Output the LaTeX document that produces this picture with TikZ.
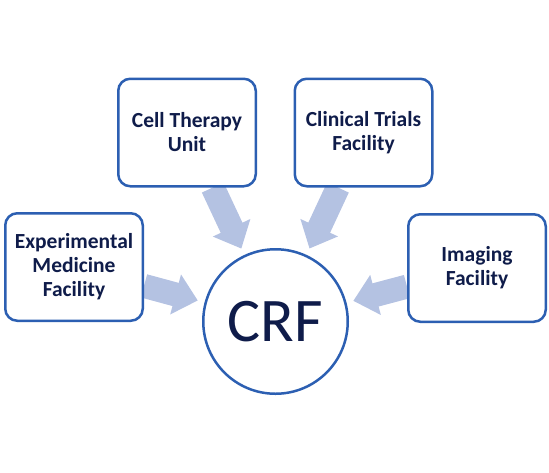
\documentclass[tikz,border=0pt]{standalone}
\usepackage{fontspec}
\setmainfont{Carlito}
\usetikzlibrary{arrows.meta,backgrounds}
\definecolor{boxblue}{HTML}{2C5FB2}
\definecolor{arrowblue}{HTML}{B4C2E2}
\definecolor{navy}{HTML}{0F1C4A}
\begin{document}
\begin{tikzpicture}[x=1pt, y=-1pt,
    unitbox/.style={draw=boxblue, line width=2.5pt, rounded corners=12pt, fill=white,
        minimum width=137.5pt, minimum height=107.5pt, align=center,
        text=navy, font=\fontsize{21.5}{24}\selectfont\bfseries},
    feed/.style={arrowblue, line width=24pt, shorten >=7pt,
        -{Triangle[length=23pt, width=40pt]}}]
  \useasboundingbox (0,0) rectangle (549,472);
  \node[circle, draw=boxblue, line width=2.5pt, fill=white, minimum size=144.5pt,
        text=navy, font=\fontsize{62}{62}\selectfont] (crf) at (275.5,321.5) {CRF};
  \node[unitbox] (exp) at (74,267) {Experimental\\Medicine\\Facility};
  \node[unitbox] (cell) at (187,132.5) {Cell Therapy\\Unit};
  \node[unitbox] (clin) at (363.5,132.5) {Clinical Trials\\Facility};
  \node[unitbox] (img) at (477,268) {Imaging\\Facility};
  \begin{scope}[on background layer]
    \draw[feed] (exp) -- (crf);
    \draw[feed] (cell) -- (crf);
    \draw[feed] (clin) -- (crf);
    \draw[feed] (img) -- (crf);
  \end{scope}
\end{tikzpicture}
\end{document}
